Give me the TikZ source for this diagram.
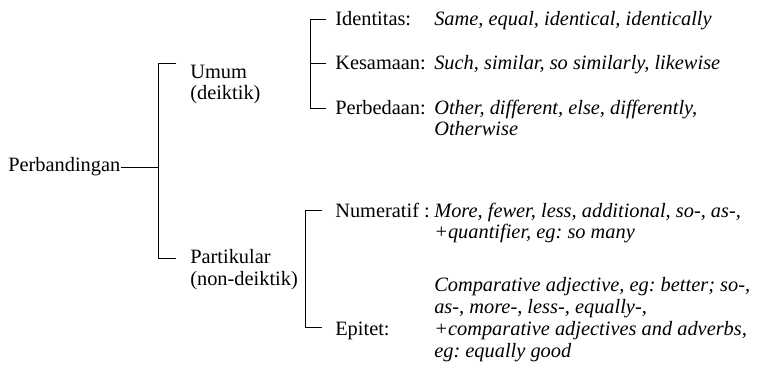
\documentclass[tikz,border=0pt]{standalone}
\usepackage{fontspec}
\setmainfont{Liberation Serif}
\frenchspacing
\tikzset{
  lbl/.style={anchor=base west, inner sep=0pt, align=left, font=\fontsize{14.5}{15.6}\selectfont},
  contoh/.style={lbl, font=\fontsize{14.5}{15.6}\selectfont\itshape},
  brk/.style={line width=0.7pt}
}
\begin{document}
\begin{tikzpicture}
    \useasboundingbox (0,0) rectangle (19.5,-9.125);
    %akar
    \node[lbl] (perb) at (0.2,-4.3) {Perbandingan};
    %cabang pertama (base = baris terakhir)
    \node[lbl] (umum) at (4.75,-2.50) {Umum\\(deiktik)};
    \node[lbl] (partikular) at (4.75,-7.125) {Partikular\\(non-deiktik)};
    %cabang kedua
    \node[lbl] (identitas) at (8.375,-0.65) {Identitas:};
    \node[lbl] (kesamaan) at (8.375,-1.75) {Kesamaan:};
    \node[lbl] (perbedaan) at (8.375,-2.85) {Perbedaan:};
    \node[lbl] (numeratif) at (8.375,-5.425) {Numeratif :};
    \node[lbl] (epitet) at (8.375,-8.375) {Epitet:};
    %contoh
    \node[contoh] (c1) at (10.85,-0.65) {Same, equal, identical, identically};
    \node[contoh] (c2) at (10.85,-1.75) {Such, similar, so similarly, likewise};
    \node[contoh] (c3) at (10.85,-3.40) {Other, different, else, differently,\\Otherwise};
    \node[contoh] (c4) at (10.85,-5.975) {More, fewer, less, additional, so-, as-,\\+quantifier, eg: so many};
    \node[contoh] (c5) at (10.85,-8.925) {Comparative adjective, eg: better; so-,\\as-, more-, less-, equally-,\\+comparative adjectives and adverbs,\\eg: equally good};
    %titik kurung
    \coordinate (s1a) at (3.95,-1.575);
    \coordinate (s1b) at (3.95,-6.45);
    \coordinate (t1a) at (4.40,-1.575);
    \coordinate (t1b) at (4.40,-6.45);
    \coordinate (s2a) at (7.75,-0.475);
    \coordinate (s2b) at (7.75,-2.70);
    \coordinate (t2a) at (8.15,-0.475);
    \coordinate (t2m) at (8.15,-1.575);
    \coordinate (t2b) at (8.15,-2.70);
    \coordinate (s3a) at (7.625,-5.25);
    \coordinate (s3b) at (7.625,-8.175);
    \coordinate (t3a) at (8.05,-5.25);
    \coordinate (t3b) at (8.05,-8.175);
    %garis
    \draw[brk] (perb.east) -- (perb.east -| s1a);
    \draw[brk] (t1a) -- (s1a) -- (s1b) -- (t1b);
    \draw[brk] (t2a) -- (s2a) -- (s2b) -- (t2b);
    \draw[brk] (t2m) -- (t2m -| s2a);
    \draw[brk] (t3a) -- (s3a) -- (s3b) -- (t3b);
\end{tikzpicture}
\end{document}
